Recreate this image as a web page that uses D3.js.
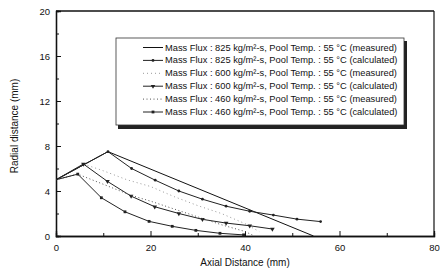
<!DOCTYPE html>
<html>
<head>
<meta charset="utf-8">
<script src="https://cdn.jsdelivr.net/npm/d3@7"></script>
<style>
  body { margin: 0; background: #fff; }
  text { font-family: "Liberation Sans", Arial, sans-serif; fill: #111; }
</style>
</head>
<body>
<svg id="chart" width="440" height="273"></svg>
<script>
// values
var xTicks = [0, 20, 40, 60, 80]
var yTicks = [0, 4, 8, 12, 16, 20]

var meas825X = [0, 11, 54.5]
var meas825Y = [5, 7.5, 0]
var calc825X = [0, 11, 16, 21, 26, 31, 36, 41, 46, 51, 56]
var calc825Y = [5, 7.5, 6.0, 4.96, 4.0, 3.27, 2.65, 2.2, 1.86, 1.5, 1.28]
var meas600X = [0, 5.8, 10, 15, 20, 25, 30, 35, 40, 43]
var meas600Y = [5, 6.4, 5.8, 5.0, 4.4, 3.5, 2.7, 2.0, 1.1, 0.4]
var calc600X = [0, 5.8, 10.9, 15.9, 20.9, 26, 31, 36, 41, 45.8]
var calc600Y = [5, 6.4, 4.85, 3.54, 2.6, 2.0, 1.48, 1.15, 0.91, 0.62]
var meas460X = [0, 4.6, 10, 16, 20, 25, 30, 35, 40, 42]
var meas460Y = [5, 5.5, 4.6, 3.6, 3.1, 2.4, 1.7, 1.0, 0.4, 0]
var calc460X = [0, 4.6, 9.6, 14.6, 19.7, 24.6, 29.6, 34.7, 39.7]
var calc460Y = [5, 5.5, 3.4, 2.15, 1.3, 0.86, 0.5, 0.24, 0.1]

var legendLabels = [
  "Mass Flux : 825 kg/m\u00B2-s, Pool Temp. : 55 \u00B0C (measured)",
  "Mass Flux : 825 kg/m\u00B2-s, Pool Temp. : 55 \u00B0C (calculated)",
  "Mass Flux : 600 kg/m\u00B2-s, Pool Temp. : 55 \u00B0C (measured)",
  "Mass Flux : 600 kg/m\u00B2-s, Pool Temp. : 55 \u00B0C (calculated)",
  "Mass Flux : 460 kg/m\u00B2-s, Pool Temp. : 55 \u00B0C (measured)",
  "Mass Flux : 460 kg/m\u00B2-s, Pool Temp. : 55 \u00B0C (calculated)"
]

function pts(xs, ys) { return xs.map((x, i) => [x, ys[i]]) }

var series = [
  {data: pts(meas825X, meas825Y), dash: null, marker: null, color: "#111"},
  {data: pts(calc825X, calc825Y), dash: null, marker: "circle", color: "#222"},
  {data: pts(meas600X, meas600Y), dash: "1,3", marker: null, color: "#999"},
  {data: pts(calc600X, calc600Y), dash: null, marker: "triangle", color: "#222"},
  {data: pts(meas460X, meas460Y), dash: "1,2.5", marker: null, color: "#555"},
  {data: pts(calc460X, calc460Y), dash: null, marker: "square", color: "#222"}
]

var svg = d3.select("#chart")
var plotLeft = 56, plotRight = 434, plotTop = 11, plotBottom = 236

var scaleX = d3.scaleLinear().domain([0, 80]).range([plotLeft, plotRight])
var scaleY = d3.scaleLinear().domain([0, 20]).range([plotBottom, plotTop])

// axes with inward ticks
var axisX = d3.axisBottom(scaleX).tickValues(xTicks).tickSize(-5).tickPadding(8)
var axisXminor = d3.axisBottom(scaleX).tickValues(d3.range(10, 80, 20)).tickSize(-3).tickFormat("")
var axisY = d3.axisLeft(scaleY).tickValues(yTicks).tickSize(-5).tickPadding(6)
var axisYminor = d3.axisLeft(scaleY).tickValues(d3.range(2, 20, 4)).tickSize(-3).tickFormat("")

svg.append("g").attr("transform", "translate(0," + plotBottom + ")").call(axisX)
svg.append("g").attr("transform", "translate(0," + plotBottom + ")").call(axisXminor)
svg.append("g").attr("transform", "translate(" + plotLeft + ",0)").call(axisY)
svg.append("g").attr("transform", "translate(" + plotLeft + ",0)").call(axisYminor)

svg.selectAll(".domain").attr("stroke", "#111").attr("stroke-width", 1.3)
svg.selectAll(".tick line").attr("stroke", "#111")
svg.selectAll(".tick text").style("font-size", "9.5px").attr("fill", "#111")
  .style("font-family", "'Liberation Sans', Arial, sans-serif")

// top and right frame
svg.append("line").attr("x1", plotLeft).attr("x2", plotRight).attr("y1", plotTop).attr("y2", plotTop)
  .attr("stroke", "#111").attr("stroke-width", 1.4)
svg.append("line").attr("x1", plotRight).attr("x2", plotRight).attr("y1", plotTop).attr("y2", plotBottom)
  .attr("stroke", "#111").attr("stroke-width", 1.2)

svg.append("text").attr("x", 245).attr("y", 266).attr("text-anchor", "middle")
  .style("font-size", "10px").text("Axial Distance (mm)")
svg.append("text").attr("transform", "translate(18,126) rotate(-90)").attr("text-anchor", "middle")
  .style("font-size", "10px").text("Radial distance (mm)")

var line = d3.line().x(d => scaleX(d[0])).y(d => scaleY(d[1]))

function drawMarker(g, kind, x, y, color) {
  if (kind == "circle") {
    g.append("circle").attr("cx", x).attr("cy", y).attr("r", 1.4).attr("fill", color)
  } else if (kind == "square") {
    g.append("rect").attr("x", x - 1.4).attr("y", y - 1.4).attr("width", 2.8).attr("height", 2.8).attr("fill", color)
  } else if (kind == "triangle") {
    g.append("path").attr("d", d3.symbol(d3.symbolTriangle, 9)()).attr("fill", color)
      .attr("transform", "translate(" + x + "," + y + ") rotate(180)")
  }
}

var marks = svg.append("g")
series.forEach(function (s) {
  marks.append("path").datum(s.data).attr("d", line).attr("fill", "none")
    .attr("stroke", s.color).attr("stroke-width", 1)
    .attr("stroke-dasharray", s.dash)
  if (s.marker) {
    s.data.slice(1).forEach(d => drawMarker(marks, s.marker, scaleX(d[0]), scaleY(d[1]), s.color))
  }
})

// legend
var lg = svg.append("g")
lg.append("rect").attr("x", 118).attr("y", 41).attr("width", 289).attr("height", 88).attr("fill", "#222")
lg.append("rect").attr("x", 116).attr("y", 38).attr("width", 288).attr("height", 87)
  .attr("fill", "#fff").attr("stroke", "#333").attr("stroke-width", 0.8)

legendLabels.forEach(function (label, i) {
  var y = 47.5 + i * 12.9
  var s = series[i]
  lg.append("line").attr("x1", 143).attr("x2", 163).attr("y1", y).attr("y2", y)
    .attr("stroke", s.color).attr("stroke-width", 1).attr("stroke-dasharray", s.dash)
  if (s.marker) drawMarker(lg, s.marker, 153, y, s.color)
  lg.append("text").attr("x", 165).attr("y", y + 3).style("font-size", "9.3px").text(label)
})
</script>
</body>
</html>
